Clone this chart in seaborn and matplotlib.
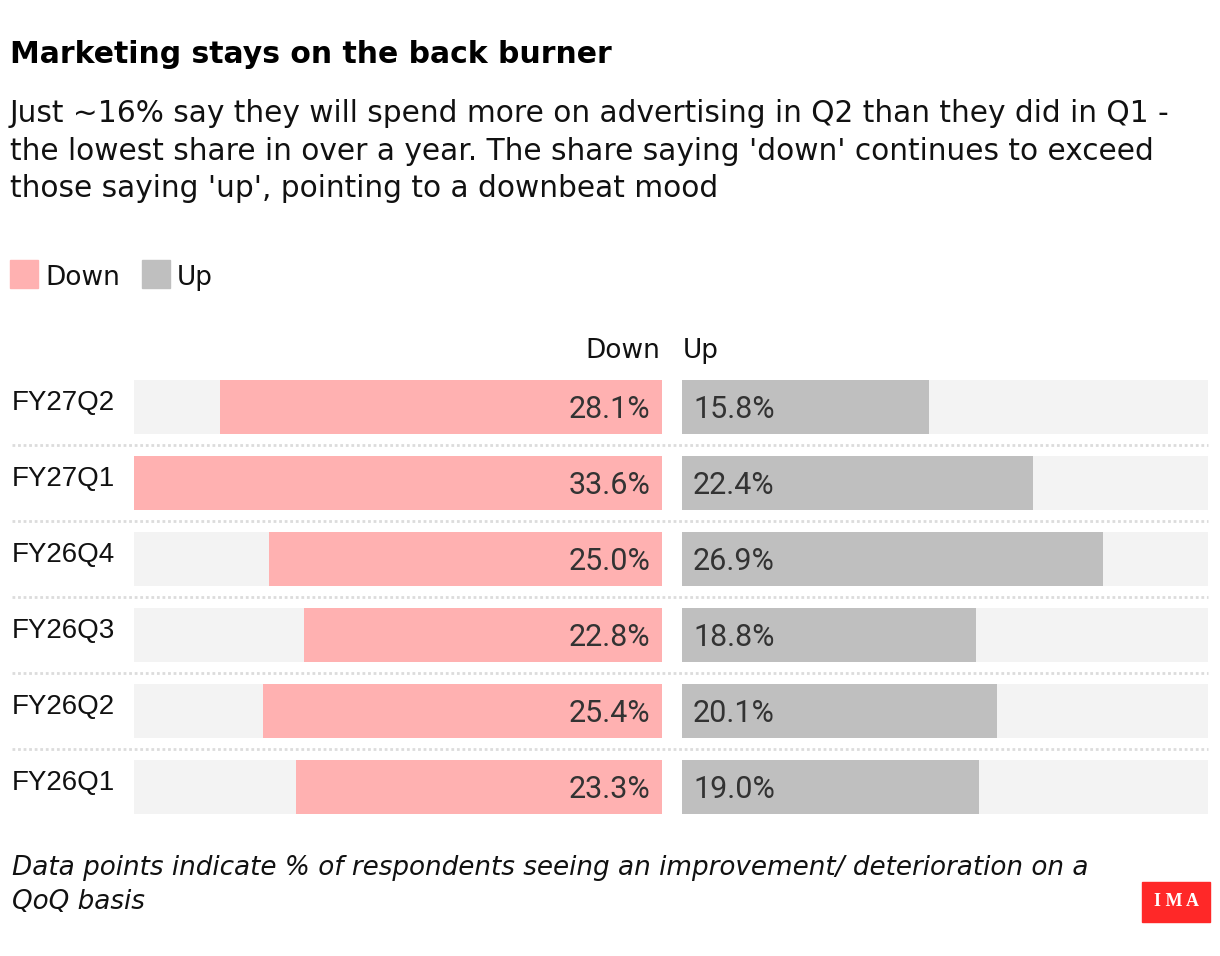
import pandas as pd
import seaborn as sns
import matplotlib.pyplot as plt
from matplotlib.patches import Rectangle
import matplotlib.transforms as mtransforms

# data
quarters = ['FY27Q2', 'FY27Q1', 'FY26Q4', 'FY26Q3', 'FY26Q2', 'FY26Q1']
down_vals = [28.1, 33.6, 25.0, 22.8, 25.4, 23.3]
up_vals = [15.8, 22.4, 26.9, 18.8, 20.1, 19.0]

title = 'Marketing stays on the back burner'
subtitle = ["Just ~16% say they will spend more on advertising in Q2 than they did in Q1 -",
            "the lowest share in over a year. The share saying 'down' continues to exceed",
            "those saying 'up', pointing to a downbeat mood"]
footnote = ['Data points indicate % of respondents seeing an improvement/ deterioration on a',
            'QoQ basis']

PINK = '#ffb1b1'
GREY = '#bfbfbf'
TRACK = '#f3f3f3'
TXT = '#333333'

sns.set_theme(style='white')
plt.rcParams['font.family'] = ['Liberation Sans', 'DejaVu Sans']

W, H = 1220, 956
fig = plt.figure(figsize=(W / 100, H / 100), dpi=100)


def fx(x):
    return x / W


def fy(y):
    return 1 - y / H


df = pd.DataFrame({'quarter': quarters, 'down': down_vals, 'up': up_vals})
vmax = max(down_vals)
df['track'] = vmax

ax_top, ax_bot = 369, 825
axL = fig.add_axes([fx(134), fy(ax_bot), fx(528), (ax_bot - ax_top) / H])
axR = fig.add_axes([fx(682), fy(ax_bot), fx(526), (ax_bot - ax_top) / H])

bw = 54 / 76
for ax, col, color in [(axL, 'down', PINK), (axR, 'up', GREY)]:
    sns.barplot(data=df, y='quarter', x='track', color=TRACK, width=bw,
                saturation=1, ax=ax, orient='h', linewidth=0)
    sns.barplot(data=df, y='quarter', x=col, color=color, width=bw,
                saturation=1, ax=ax, orient='h', linewidth=0)
    ax.set_xlim(0, vmax)
    ax.set_ylim(len(quarters) - 0.5, -0.5)
    ax.axis('off')
axL.invert_xaxis()

# value labels
offL = mtransforms.ScaledTranslation(-12 / 100, -2 / 100, fig.dpi_scale_trans)
offR = mtransforms.ScaledTranslation(11 / 100, -2 / 100, fig.dpi_scale_trans)
for i, (d, u) in enumerate(zip(down_vals, up_vals)):
    axL.text(0, i, f'{d:.1f}%', ha='right', va='center', fontsize=22,
             family='Roboto', color=TXT, transform=axL.transData + offL)
    axR.text(0, i, f'{u:.1f}%', ha='left', va='center', fontsize=22,
             family='Roboto', color=TXT, transform=axR.transData + offR)

# row separators
for i in range(len(quarters) - 1):
    axL.axhline(i + 0.5, xmin=-122 / 528, xmax=(1208 - 134) / 528,
                color='#dcdcdc', lw=2, ls=(0, (1, 1)), clip_on=False)

# category labels
trans = mtransforms.blended_transform_factory(fig.transFigure, axL.transData)
trans = trans + mtransforms.ScaledTranslation(0, 4 / 100, fig.dpi_scale_trans)
for i, q in enumerate(quarters):
    fig.text(fx(12), i, q, transform=trans, ha='left', va='center',
             fontsize=20, family='Liberation Sans', color='#111111')

# column headers
fig.text(fx(660), fy(358), 'Down', ha='right', va='baseline', fontsize=19,
         family='DejaVu Sans', color='#111111')
fig.text(fx(683), fy(358), 'Up', ha='left', va='baseline', fontsize=19,
         family='DejaVu Sans', color='#111111')

# title & subtitle
fig.text(fx(10), fy(63), title, ha='left', va='baseline', fontsize=21.5,
         weight='bold', family='DejaVu Sans', color='#000000')
for k, line in enumerate(subtitle):
    fig.text(fx(10), fy(122 + 37.5 * k), line, ha='left', va='baseline',
             fontsize=21.3, family='DejaVu Sans', color='#111111')

# legend
for x0, lab, c in [(10, 'Down', PINK), (142, 'Up', GREY)]:
    fig.add_artist(Rectangle((fx(x0), fy(288)), fx(28), 28 / H, color=c,
                             transform=fig.transFigure))
    fig.text(fx(x0 + 35), fy(285), lab, ha='left', va='baseline', fontsize=19,
             family='DejaVu Sans', color='#111111')

# footnote
for k, line in enumerate(footnote):
    fig.text(fx(12), fy(875 + 34 * k), line, ha='left', va='baseline',
             fontsize=18.9, style='italic', family='DejaVu Sans', color='#111111')

# logo
fig.add_artist(Rectangle((fx(1142), fy(922)), fx(68), 40 / H, color='#ff2828',
                         transform=fig.transFigure))
fig.text(fx(1176), fy(902), 'I M A', ha='center', va='center', fontsize=13,
         weight='bold', family='Liberation Serif', color='white')

fig.savefig('out.png', dpi=100)
